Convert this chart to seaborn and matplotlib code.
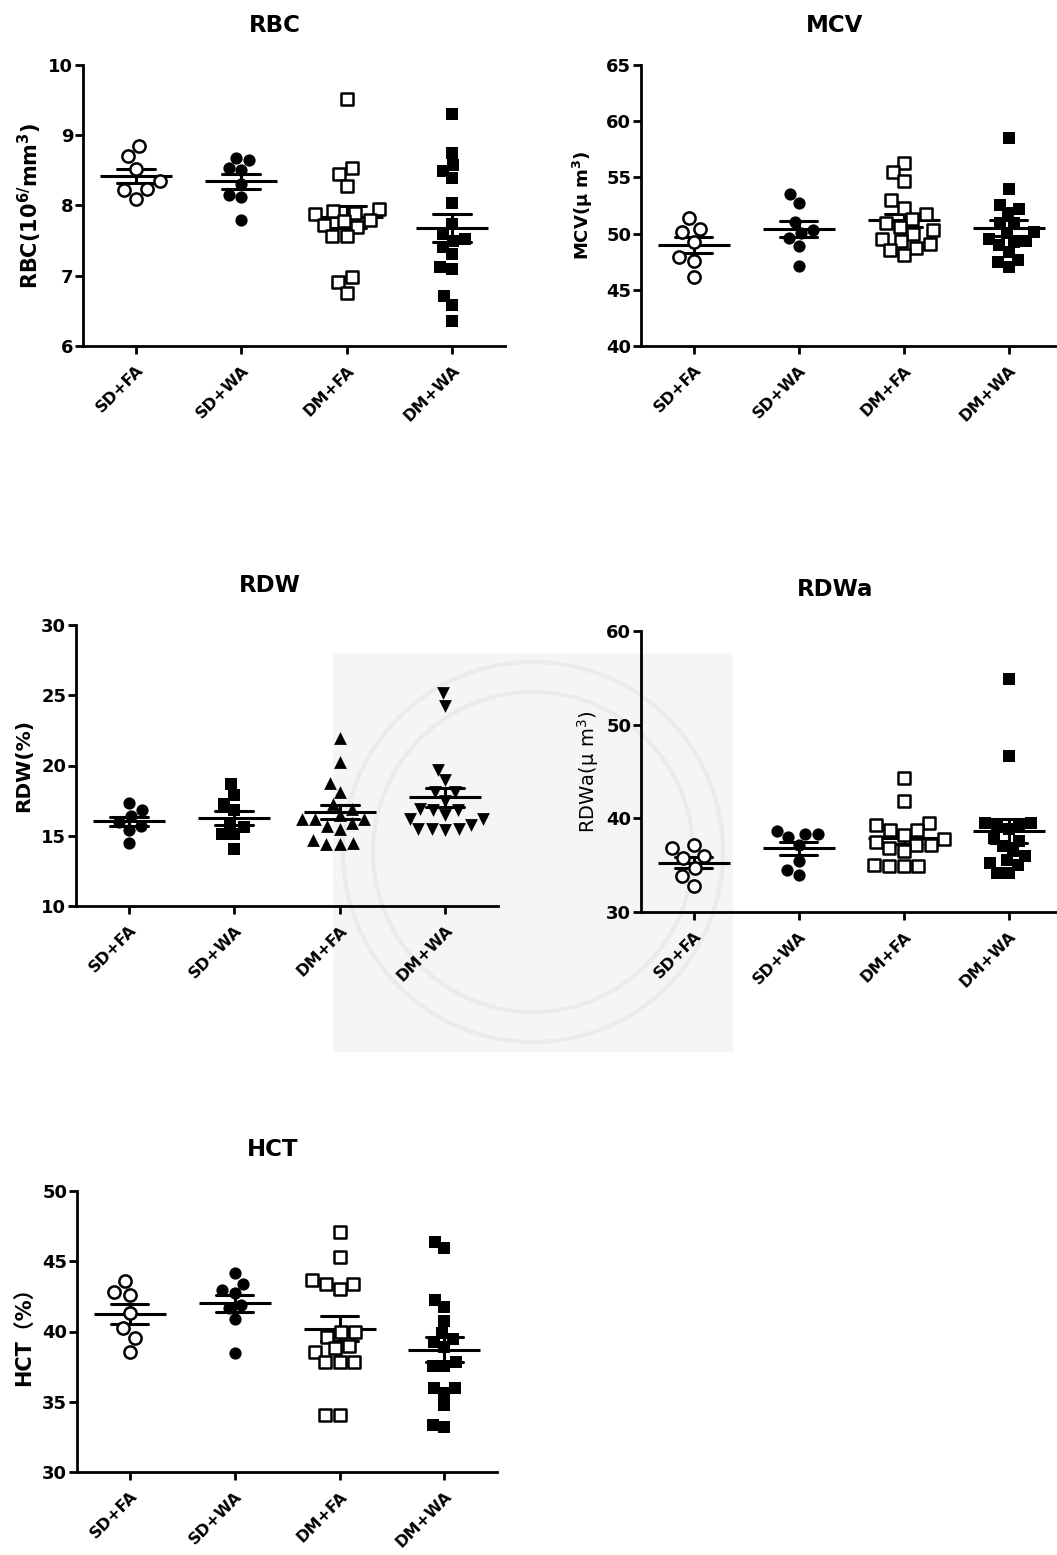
import numpy as np
import pandas as pd
import matplotlib
matplotlib.use("Agg")
import matplotlib.pyplot as plt
import seaborn as sns
from matplotlib.patches import Rectangle, Circle

groups = ["SD+FA", "SD+WA", "DM+FA", "DM+WA"]

# ---- RBC ----
rbc_sd_fa = [8.84, 8.70, 8.52, 8.35, 8.23, 8.22, 8.09]
rbc_sd_wa = [8.67, 8.65, 8.53, 8.51, 8.31, 8.15, 8.12, 7.80]
rbc_dm_fa = [9.52, 8.54, 8.45, 8.28, 7.95, 7.92, 7.90, 7.88, 7.80, 7.78, 7.72, 7.70, 7.56, 7.56, 6.98, 6.91, 6.75]
rbc_dm_wa = [9.30, 8.75, 8.57, 8.49, 8.39, 8.04, 7.74, 7.60, 7.52, 7.50, 7.41, 7.31, 7.10, 7.12, 6.71, 6.59, 6.36]

# ---- MCV ----
mcv_sd_fa = [51.40, 50.45, 50.15, 49.26, 47.93, 47.57, 46.15]
mcv_sd_wa = [53.51, 52.68, 51.05, 50.30, 50.07, 49.62, 48.88, 47.10]
mcv_dm_fa = [56.3, 55.5, 54.67, 52.97, 52.32, 51.73, 51.3, 50.9, 50.6, 50.3, 50.0, 49.56, 49.3, 49.1, 48.76, 48.5, 48.08]
mcv_dm_wa = [58.53, 54.0, 52.53, 52.23, 51.79, 50.9, 50.9, 50.1, 50.07, 49.56, 49.3, 49.26, 48.97, 48.37, 47.63, 47.48, 47.04]

# ---- RDW ----
rdw_sd_fa = [17.3, 16.8, 16.4, 16.0, 15.7, 15.4, 14.5]
rdw_sd_wa = [18.67, 17.89, 17.24, 16.82, 15.87, 15.6, 15.11, 15.11, 14.09]
rdw_dm_fa = [21.97, 20.26, 18.72, 18.12, 17.29, 16.9, 16.5, 16.22, 16.2, 16.2, 15.9, 15.7, 15.5, 14.68, 14.5, 14.44, 14.4]
rdw_dm_wa = [25.13, 24.23, 19.71, 18.95, 18.12, 18.12, 17.5, 16.9, 16.86, 16.86, 16.5, 16.22, 16.22, 15.8, 15.4, 15.5, 15.5, 15.5]

# ---- RDWa ----
rdwa_sd_fa = [37.17, 36.82, 35.93, 35.75, 34.7, 33.8, 32.74]
rdwa_sd_wa = [38.6, 38.35, 38.3, 38.0, 37.2, 35.4, 34.5, 33.98]
rdwa_dm_fa = [44.27, 41.9, 39.55, 39.3, 38.8, 38.8, 38.2, 37.8, 37.5, 37.2, 37.2, 36.8, 36.5, 35.0, 34.9, 34.9, 34.87]
rdwa_dm_wa = [54.85, 46.65, 39.5, 39.5, 39.4, 39.2, 38.9, 37.9, 37.6, 37.0, 36.5, 35.93, 35.5, 35.2, 35.0, 34.2, 34.2]

# ---- HCT ----
hct_sd_fa = [43.59, 42.83, 42.59, 41.29, 40.22, 39.51, 38.52]
hct_sd_wa = [44.13, 43.37, 42.95, 42.71, 41.88, 41.64, 40.86, 38.5]
hct_dm_fa = [47.09, 45.31, 43.7, 43.37, 43.37, 42.99, 39.99, 39.99, 39.63, 39.0, 38.8, 38.57, 37.86, 37.86, 37.86, 34.07, 34.07]
hct_dm_wa = [46.38, 45.91, 42.24, 41.76, 40.77, 39.92, 39.5, 39.28, 38.9, 37.86, 37.55, 37.55, 35.96, 35.96, 35.6, 34.78, 33.36, 33.2]

sns.set_theme(style="ticks")
plt.rcParams["font.family"] = ["DejaVu Sans", "Noto Sans CJK SC"]
plt.rcParams["font.weight"] = "bold"
plt.rcParams["text.color"] = "black"
plt.rcParams["axes.labelcolor"] = "black"
plt.rcParams["mathtext.fontset"] = "dejavusans"

W, H = 1057, 1555
fig = plt.figure(figsize=(W / 100, H / 100), dpi=100)
fig.patch.set_facecolor("white")

# faint watermark background
bg = fig.add_axes([0, 0, 1, 1], zorder=-10)
bg.set_xlim(0, W)
bg.set_ylim(H, 0)
bg.axis("off")
bg.add_patch(Rectangle((333, 653), 400, 399, facecolor="#f5f5f5", edgecolor="none"))
for r in (190, 160):
    bg.add_patch(Circle((533, 852), r, facecolor="none", edgecolor="#ebebeb", lw=3))


def px_axes(l, r, t, b):
    ax = fig.add_axes([l / W, 1 - b / H, (r - l) / W, (b - t) / H])
    ax.set_facecolor("none")
    return ax


OC = ("o", False, 8.8)
FC = ("o", True, 8.8)
OS = ("s", False, 8.2)
FS = ("s", True, 8.2)
TU = ("^", True, 9.2)
TD = ("v", True, 9.2)

panels = [
    dict(title="RBC", txy=(275, 25), rect=(83, 505, 65, 346), ylim=(6, 10), step=1,
         ylabel=r"RBC(10$^{\mathregular{6/}}$mm$^{\mathregular{3}}$)", ls=15, lw="bold", lx=30,
         data=[rbc_sd_fa, rbc_sd_wa, rbc_dm_fa, rbc_dm_wa], styles=[OC, FC, OS, FS]),
    dict(title="MCV", txy=(835, 25), rect=(641, 1061, 65, 346), ylim=(40, 65), step=5,
         ylabel=r"MCV(μ m$^{\mathregular{3}}$)", ls=13, lw="bold", lx=583,
         data=[mcv_sd_fa, mcv_sd_wa, mcv_dm_fa, mcv_dm_wa], styles=[OC, FC, OS, FS]),
    dict(title="RDW", txy=(270, 585), rect=(76, 498, 625, 906), ylim=(10, 30), step=5,
         ylabel="RDW(%)", ls=14.5, lw="bold", lx=24,
         data=[rdw_sd_fa, rdw_sd_wa, rdw_dm_fa, rdw_dm_wa], styles=[FC, FS, TU, TD]),
    dict(title="RDWa", txy=(835, 590), rect=(641, 1061, 631, 912), ylim=(30, 60), step=10,
         ylabel=r"RDWa(μ m$^{\mathregular{3}}$)", ls=14, lw="normal", lx=588,
         data=[rdwa_sd_fa, rdwa_sd_wa, rdwa_dm_fa, rdwa_dm_wa], styles=[OC, FC, OS, FS]),
    dict(title="HCT", txy=(273, 1150), rect=(77, 497, 1191, 1472), ylim=(30, 50), step=5,
         ylabel="HCT（%）", ls=15, lw="bold", lx=24,
         data=[hct_sd_fa, hct_sd_wa, hct_dm_fa, hct_dm_wa], styles=[OC, FC, OS, FS]),
]

for p in panels:
    l, r, t, b = p["rect"]
    ax = px_axes(l, r, t, b)
    frames = []
    for g, vals, (mk, filled, sz) in zip(groups, p["data"], p["styles"]):
        d = pd.DataFrame({"group": g, "value": vals})
        frames.append(d)
        sns.swarmplot(data=d, x="group", y="value", order=groups, marker=mk, size=sz,
                      color="black" if filled else "white", edgecolor="black",
                      linewidth=0 if filled else 1.8, ax=ax)
    df = pd.concat(frames, ignore_index=True)
    sns.pointplot(data=df, x="group", y="value", order=groups, estimator="mean",
                  errorbar="se", capsize=0.36, color="black", markers="_",
                  linestyles="none", markersize=52, markeredgewidth=2.2,
                  err_kws={"linewidth": 2.2}, ax=ax)
    lo, hi = p["ylim"]
    ticks = np.arange(lo, hi + 0.001, p["step"])
    ax.set_ylim(lo, hi)
    ax.set_yticks(ticks)
    ax.set_yticklabels([f"{v:g}" for v in ticks], fontsize=13, fontweight="bold")
    ax.set_xlim(-0.5, 3.5)
    ax.set_xticks(range(4))
    ax.set_xticklabels(groups, rotation=45, ha="right", va="top", rotation_mode="anchor",
                       fontsize=11.5, fontweight="bold")
    ax.set_xlabel("")
    ax.set_ylabel(p["ylabel"], fontsize=p["ls"], fontweight=p["lw"], va="center",
                  family=["DejaVu Sans", "Noto Sans CJK SC"])
    ax.yaxis.set_label_coords((p["lx"] - l) / (r - l), 0.5)
    for s in ("top", "right"):
        ax.spines[s].set_visible(False)
    for s in ("left", "bottom"):
        ax.spines[s].set_linewidth(2.0)
        ax.spines[s].set_color("black")
    ax.tick_params(axis="both", direction="out", width=2.0, length=6, color="black",
                   labelcolor="black")
    ax.tick_params(axis="y", pad=1)
    ax.tick_params(axis="x", pad=6)
    fig.text(p["txy"][0] / W, 1 - p["txy"][1] / H, p["title"], ha="center", va="center",
             fontsize=16.5, fontweight="bold", color="black")

fig.savefig("out.png", dpi=100, facecolor="white")
